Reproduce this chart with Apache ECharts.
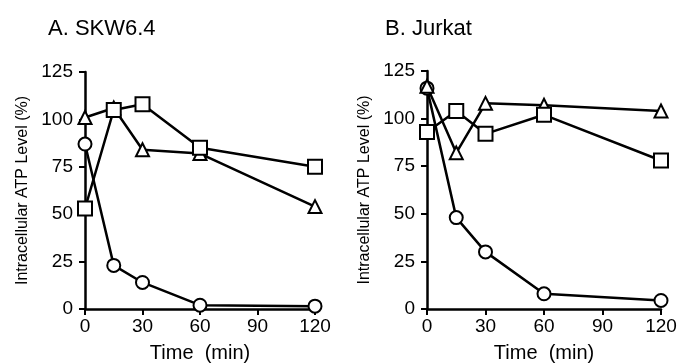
<!DOCTYPE html>
<html>
<head>
<meta charset="utf-8">
<script src="https://cdn.jsdelivr.net/npm/echarts@6/dist/echarts.min.js"></script>
<style>
  html, body { margin: 0; padding: 0; background: #fff; }
  #chart { width: 682px; height: 364px; }
</style>
</head>
<body>
<div id="chart"></div>
<script>
// time points (min)
var times = [0, 15, 30, 60, 120];
var xTicks = [0, 30, 60, 90, 120];
var yTicks = [0, 25, 50, 75, 100, 125];

// A. SKW6.4
var skwSquare = [53, 105, 108, 85, 75];
var skwTriangle = [101, 106, 84, 82, 54];
var skwCircle = [87, 23, 14, 2, 1.5];

// B. Jurkat
var jurSquare = [93, 104, 92, 102, 78];
var jurTriangle = [117, 82, 108, 107, 104];
var jurCircle = [116, 48, 30, 8, 4.5];

var FONT = "Liberation Sans, Arial, sans-serif";

function pairs(vals) {
  return times.map(function (t, i) { return [t, vals[i]]; });
}

var myChart = echarts.init(document.getElementById("chart"));

function xAxis(idx) {
  return {
    type: "value",
    gridIndex: idx,
    min: 0,
    max: 120,
    interval: 30,
    name: "Time  (min)",
    nameLocation: "middle",
    nameGap: 34,
    nameTextStyle: { color: "#000", fontSize: 20, fontFamily: FONT },
    axisLine: { lineStyle: { color: "#000", width: 2.5 } },
    axisTick: { show: true, length: 6, lineStyle: { color: "#000", width: 2 } },
    axisLabel: { color: "#000", fontSize: 19, fontFamily: FONT, margin: 8,
      formatter: function (v) { return xTicks.indexOf(v) >= 0 ? String(v) : ""; } },
    splitLine: { show: false }
  };
}

function yAxis(idx) {
  return {
    type: "value",
    gridIndex: idx,
    min: 0,
    max: 125,
    interval: 25,
    name: "Intracellular ATP Level (%)",
    nameLocation: "middle",
    nameGap: 54,
    nameTextStyle: { color: "#000", fontSize: 16, fontFamily: FONT },
    axisLine: { show: true, lineStyle: { color: "#000", width: 2.5 } },
    axisTick: { show: true, length: 6, lineStyle: { color: "#000", width: 2 } },
    axisLabel: { color: "#000", fontSize: 19, fontFamily: FONT, margin: 12,
      formatter: function (v) { return yTicks.indexOf(v) >= 0 ? String(v) : ""; } },
    splitLine: { show: false }
  };
}

var seriesDefs = [
  { idx: 0, data: skwCircle, symbol: "circle", size: 13 },
  { idx: 0, data: skwTriangle, symbol: "triangle", size: 13 },
  { idx: 0, data: skwSquare, symbol: "rect", size: 14 },
  { idx: 1, data: jurCircle, symbol: "circle", size: 13 },
  { idx: 1, data: jurTriangle, symbol: "triangle", size: 13 },
  { idx: 1, data: jurSquare, symbol: "rect", size: 14 }
];

myChart.setOption({
  animation: false,
  backgroundColor: "#fff",
  title: [
    { text: "A. SKW6.4", left: 43, top: 13,
      textStyle: { color: "#000", fontSize: 22, fontWeight: "normal", fontFamily: FONT } },
    { text: "B. Jurkat", left: 380, top: 13,
      textStyle: { color: "#000", fontSize: 22, fontWeight: "normal", fontFamily: FONT } }
  ],
  grid: [
    { left: 85, top: 72, width: 230, height: 237, outerBoundsMode: "none" },
    { left: 427, top: 71, width: 234, height: 238, outerBoundsMode: "none" }
  ],
  xAxis: [xAxis(0), xAxis(1)],
  yAxis: [yAxis(0), yAxis(1)],
  series: seriesDefs.map(function (s) {
    return {
      type: "line",
      xAxisIndex: s.idx,
      yAxisIndex: s.idx,
      data: pairs(s.data),
      symbol: s.symbol,
      symbolSize: s.size,
      showAllSymbol: true,
      lineStyle: { color: "#000", width: 2.5 },
      itemStyle: { color: "#fff", borderColor: "#000", borderWidth: 2 }
    };
  })
});
</script>
</body>
</html>
